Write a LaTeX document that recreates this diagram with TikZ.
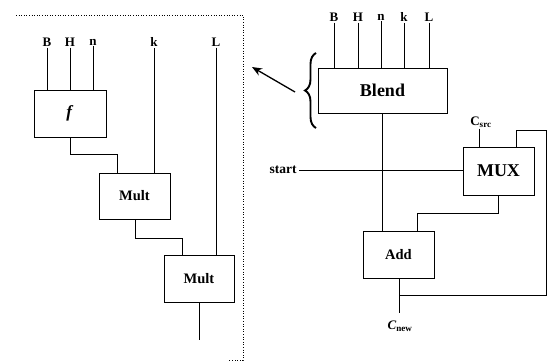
\documentclass[tikz,border=0pt]{standalone}
\usepackage{fontspec}
\setmainfont{Liberation Serif}
\usetikzlibrary{decorations.pathreplacing,arrows.meta}
\begin{document}
\begin{tikzpicture}[x=1pt,y=-1pt, line width=0.7pt,
  blk/.style={draw, rectangle, inner sep=0pt, font=\bfseries\fontsize{14.5}{16}\selectfont},
  big/.style={font=\bfseries\fontsize{18}{20}\selectfont},
  lbl/.style={font=\bfseries\fontsize{13}{15}\selectfont, inner sep=1pt},
  frame/.style={dotted, line width=0.6pt}]
\useasboundingbox (0,0) rectangle (547,362);
% ---- left panel frame
\draw[frame] (16,15) -- (243,15) -- (243,360) -- (228,360);
% ---- left panel
\node[lbl] (lB) at (47,42) {B};
\node[lbl] (lH) at (70,42) {H};
\node[lbl] (ln) at (93,42) {n};
\node[lbl] (lk) at (154,42) {k};
\node[lbl] (lL) at (216,42) {L};
\node[blk, font=\bfseries\fontsize{17}{19}\selectfont, minimum width=72pt, minimum height=47pt] (f) at (70,113.5) {\textit{f}};
\node[blk, minimum width=71pt, minimum height=46pt] (m1) at (134.5,196) {Mult};
\node[blk, minimum width=70pt, minimum height=47pt] (m2) at (199,278.5) {Mult};
\coordinate (out) at (199,340);
\draw (lB.south) -- (lB.south |- f.north);
\draw (lH.south) -- (lH.south |- f.north);
\draw (ln.south) -- (ln.south |- f.north);
\draw (lk.south) -- (lk.south |- m1.north);
\draw (lL.south) -- (lL.south |- m2.north);
\draw (f.south) -- ++(0,17) -| ([xshift=-17.5pt]m1.north);
\draw ([xshift=0.5pt]m1.south) -- ++(0,19) -| ([xshift=-17pt]m2.north);
\draw (m2.south) -- (out);
% ---- right part
\node[lbl] (rB) at (334,17) {B};
\node[lbl] (rH) at (358,17) {H};
\node[lbl] (rn) at (381,17) {n};
\node[lbl] (rk) at (404,17) {k};
\node[lbl] (rL) at (429,17) {L};
\node[blk, big, minimum width=129pt, minimum height=45pt] (blend) at (382.5,90.5) {Blend};
\node[blk, big, minimum width=71pt, minimum height=48pt] (mux) at (498.5,171) {MUX};
\node[blk, minimum width=71pt, minimum height=47pt] (add) at (398.5,254.5) {Add};
\node[lbl, font=\bfseries\fontsize{13.5}{15}\selectfont, anchor=east] (start) at (298,170) {start};
\node[lbl] (csrc) at (481,122) {C\textsubscript{src}};
\node[lbl] (cnew) at (400,326) {\textit{C}\textsubscript{new}};
\foreach \n in {rB,rH,rn,rk,rL}{\draw (\n.south) -- (\n.south |- blend.north);}
\draw ([xshift=-0.5pt]blend.south) -- ([xshift=-0.5pt]blend.south |- add.north);
\draw ([xshift=1pt]start.east) -- ([xshift=1pt]start.east -| mux.west);
\draw ([xshift=-1.5pt]csrc.south) -- ([xshift=-1.5pt]csrc.south |- mux.north);
\draw (mux.south) -- ++(0,18) -| ([xshift=18.5pt]add.north);
\coordinate (cn) at (399,313);
\draw ([xshift=0.5pt]add.south) -- (cn);
\coordinate (fbc) at (546,130);
\draw ([xshift=0.5pt,yshift=-17pt]add.south) -| (fbc) -| ([xshift=17.5pt]mux.north);
% brace and arrow
\draw[decorate, decoration={brace, amplitude=11pt}, line width=1.9pt] (316,128) -- (316,53);
\coordinate (a1) at (295,92);
\coordinate (a2) at (252,67);
\draw[-{Stealth[length=10pt,width=8pt]}, line width=1.3pt] (a1) -- (a2);
\end{tikzpicture}
\end{document}
